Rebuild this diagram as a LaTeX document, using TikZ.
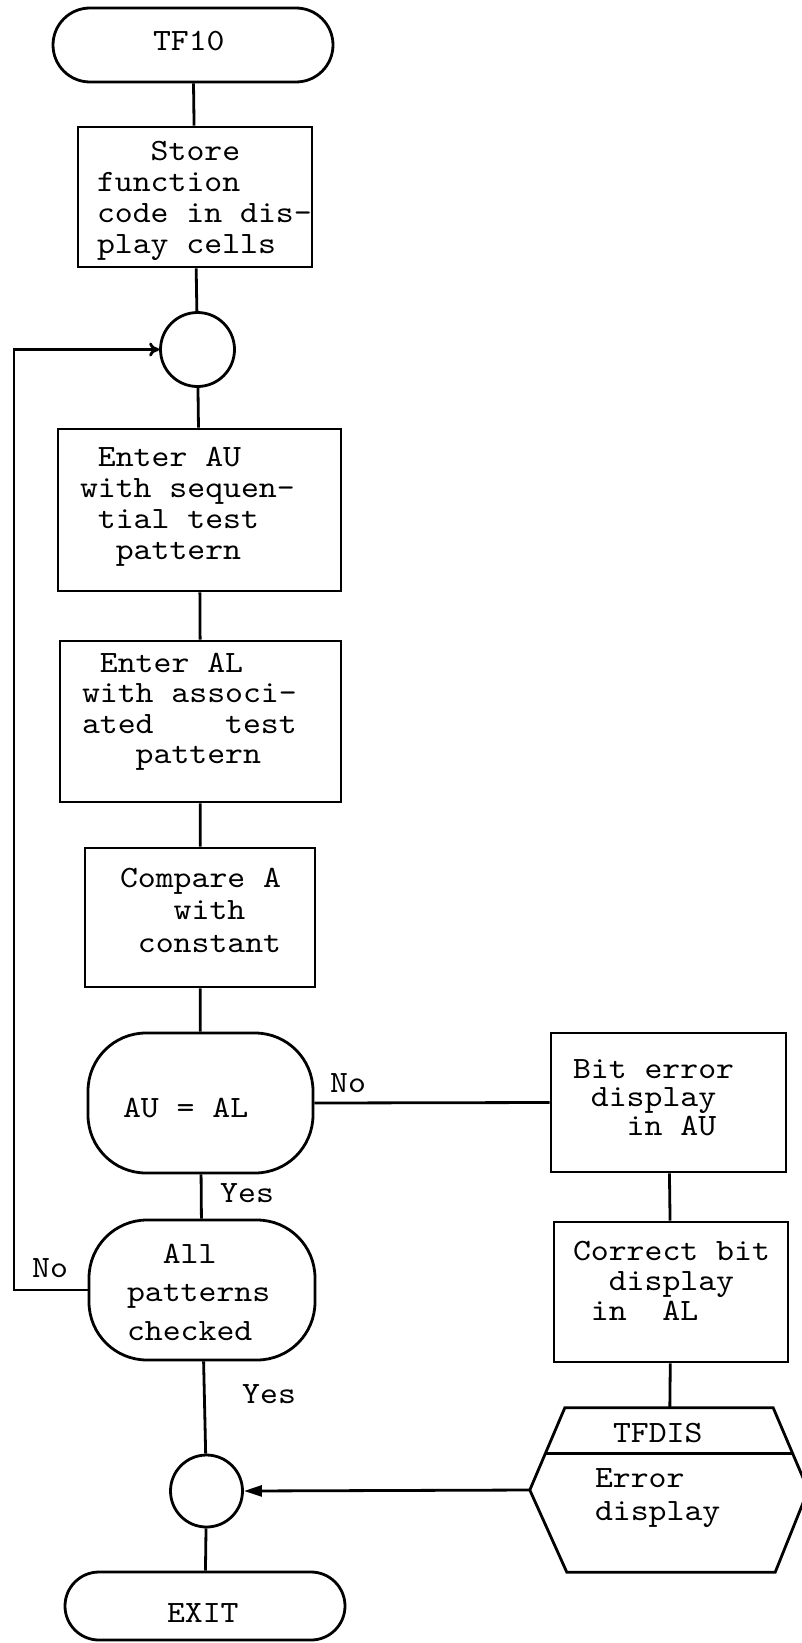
\documentclass[tikz,border=0pt]{standalone}
\usepackage{fontspec}
\newfontfamily\tw{lmmono10-regular.otf}[FakeStretch=1.1]
\usetikzlibrary{arrows.meta,calc}
\newcommand\tx[4]{\makebox[0pt][l]{\hspace*{#1}\raisebox{#2}[0pt][0pt]{\fontsize{31}{#3}\selectfont\begin{tabular}[t]{@{}l@{}}#4\end{tabular}}}}
\tikzset{
  box/.style={draw, line width=2.8pt, rectangle, inner sep=0pt, font=\tw\fontsize{31}{32}\selectfont},
  hexbox/.style={rectangle, inner sep=0pt, font=\tw\fontsize{31}{32}\selectfont},
  ring/.style={draw, line width=2.8pt, circle, inner sep=0pt},
  conn/.style={line width=2.8pt},
  lbl/.style={inner sep=0pt, font=\tw\fontsize{31}{32}\selectfont}
}
\begin{document}
\begin{tikzpicture}[x=1pt,y=-1pt]
\useasboundingbox (0,0) rectangle (801,1643);
% main column
\node[box, rounded corners=37pt, minimum width=280pt, minimum height=74pt] (tf10) at (193,45) {\tx{-40pt}{-6pt}{32pt}{TF10}};
\node[box, minimum width=234pt, minimum height=140pt] (store) at (195,197) {\tx{-98pt}{37pt}{31pt}{~~~Store\\function\\code in dis-\\play cells}};
\node[ring, minimum size=74pt] (c1) at (197.5,349.5) {};
\node[box, minimum width=283pt, minimum height=162pt] (enterau) at (199.5,510) {\tx{-119.5pt}{44pt}{31pt}{~Enter AU\\with sequen-\\~tial test\\~~pattern}};
\node[box, minimum width=281pt, minimum height=161pt] (enteral) at (200.5,721.5) {\tx{-118.5pt}{49.5pt}{30.5pt}{~Enter AL\\with associ-\\ated~~~~test\\~~~pattern}};
\node[box, minimum width=230pt, minimum height=139pt] (compare) at (200,917.5) {\tx{-80pt}{30.5pt}{32.5pt}{Compare~A\\~~~with\\~constant}};
\node[box, rounded corners=58pt, minimum width=225pt, minimum height=140pt] (aual) at (200.5,1103) {\tx{-77.5pt}{-14pt}{32pt}{AU = AL}};
\node[box, rounded corners=58pt, minimum width=226pt, minimum height=140pt] (allpat) at (202,1290) {\tx{-75pt}{27pt}{38.5pt}{~~All\\patterns\\checked}};
\node[ring, minimum size=72pt] (c2) at (206.5,1491) {};
\node[box, rounded corners=34pt, minimum width=280pt, minimum height=68pt] (exit) at (205,1606) {\tx{-38pt}{-16pt}{32pt}{EXIT}};
% right column
\node[box, minimum width=235pt, minimum height=139pt] (biterror) at (668.5,1102.5) {\tx{-95.5pt}{24.5pt}{28.5pt}{Bit error\\~display\\~~~in AU}};
\node[box, minimum width=234pt, minimum height=140pt] (correctbit) at (671,1292) {\tx{-98pt}{32pt}{30pt}{Correct bit\\~~display\\~in~~AL}};
\node[hexbox, minimum width=278pt, minimum height=164pt] (tfdis) at (669,1490) {\tx{-56pt}{48pt}{32pt}{TFDIS}\tx{-74pt}{3pt}{33pt}{Error\\display}};
\draw[conn] (tfdis.west) -- ([xshift=35pt]tfdis.north west) -- ([xshift=-35pt]tfdis.north east) -- (tfdis.east) -- ([xshift=-33pt]tfdis.south east) -- ([xshift=37pt]tfdis.south west) -- cycle;
\draw[conn] ($(tfdis.west)!0.44!([xshift=35pt]tfdis.north west)$) -- ($(tfdis.east)!0.44!([xshift=-35pt]tfdis.north east)$);
% connectors
\draw[conn] (tf10) -- (store);
\draw[conn] (store) -- (c1);
\draw[conn] (c1) -- (enterau);
\draw[conn] (enterau) -- (enteral);
\draw[conn] (enteral) -- (compare);
\draw[conn] (compare) -- (aual);
\draw[conn] (aual) -- (allpat);
\draw[conn] (allpat) -- (c2);
\draw[conn] (c2) -- (exit);
\draw[conn] (aual.east) -- (biterror.west);
\draw[conn] (biterror) -- (correctbit);
\draw[conn] (correctbit) -- (tfdis);
\draw[conn, -{Triangle[length=18pt,width=11pt]}] (tfdis.west) -- (c2.east);
\coordinate (loopx) at (14,0);
\draw[conn, -{To[length=10pt,width=14pt]}] (allpat.west) -- (allpat.west -| loopx) |- (c1.west);
% labels
\node[lbl, anchor=base west] (noR) at (330,1092) {No};
\node[lbl, anchor=base west] (yes1) at (220,1202) {Yes};
\node[lbl, anchor=base west] (noL) at (32,1277) {No};
\node[lbl, anchor=base west] (yes2) at (242,1403) {Yes};
\end{tikzpicture}
\end{document}
